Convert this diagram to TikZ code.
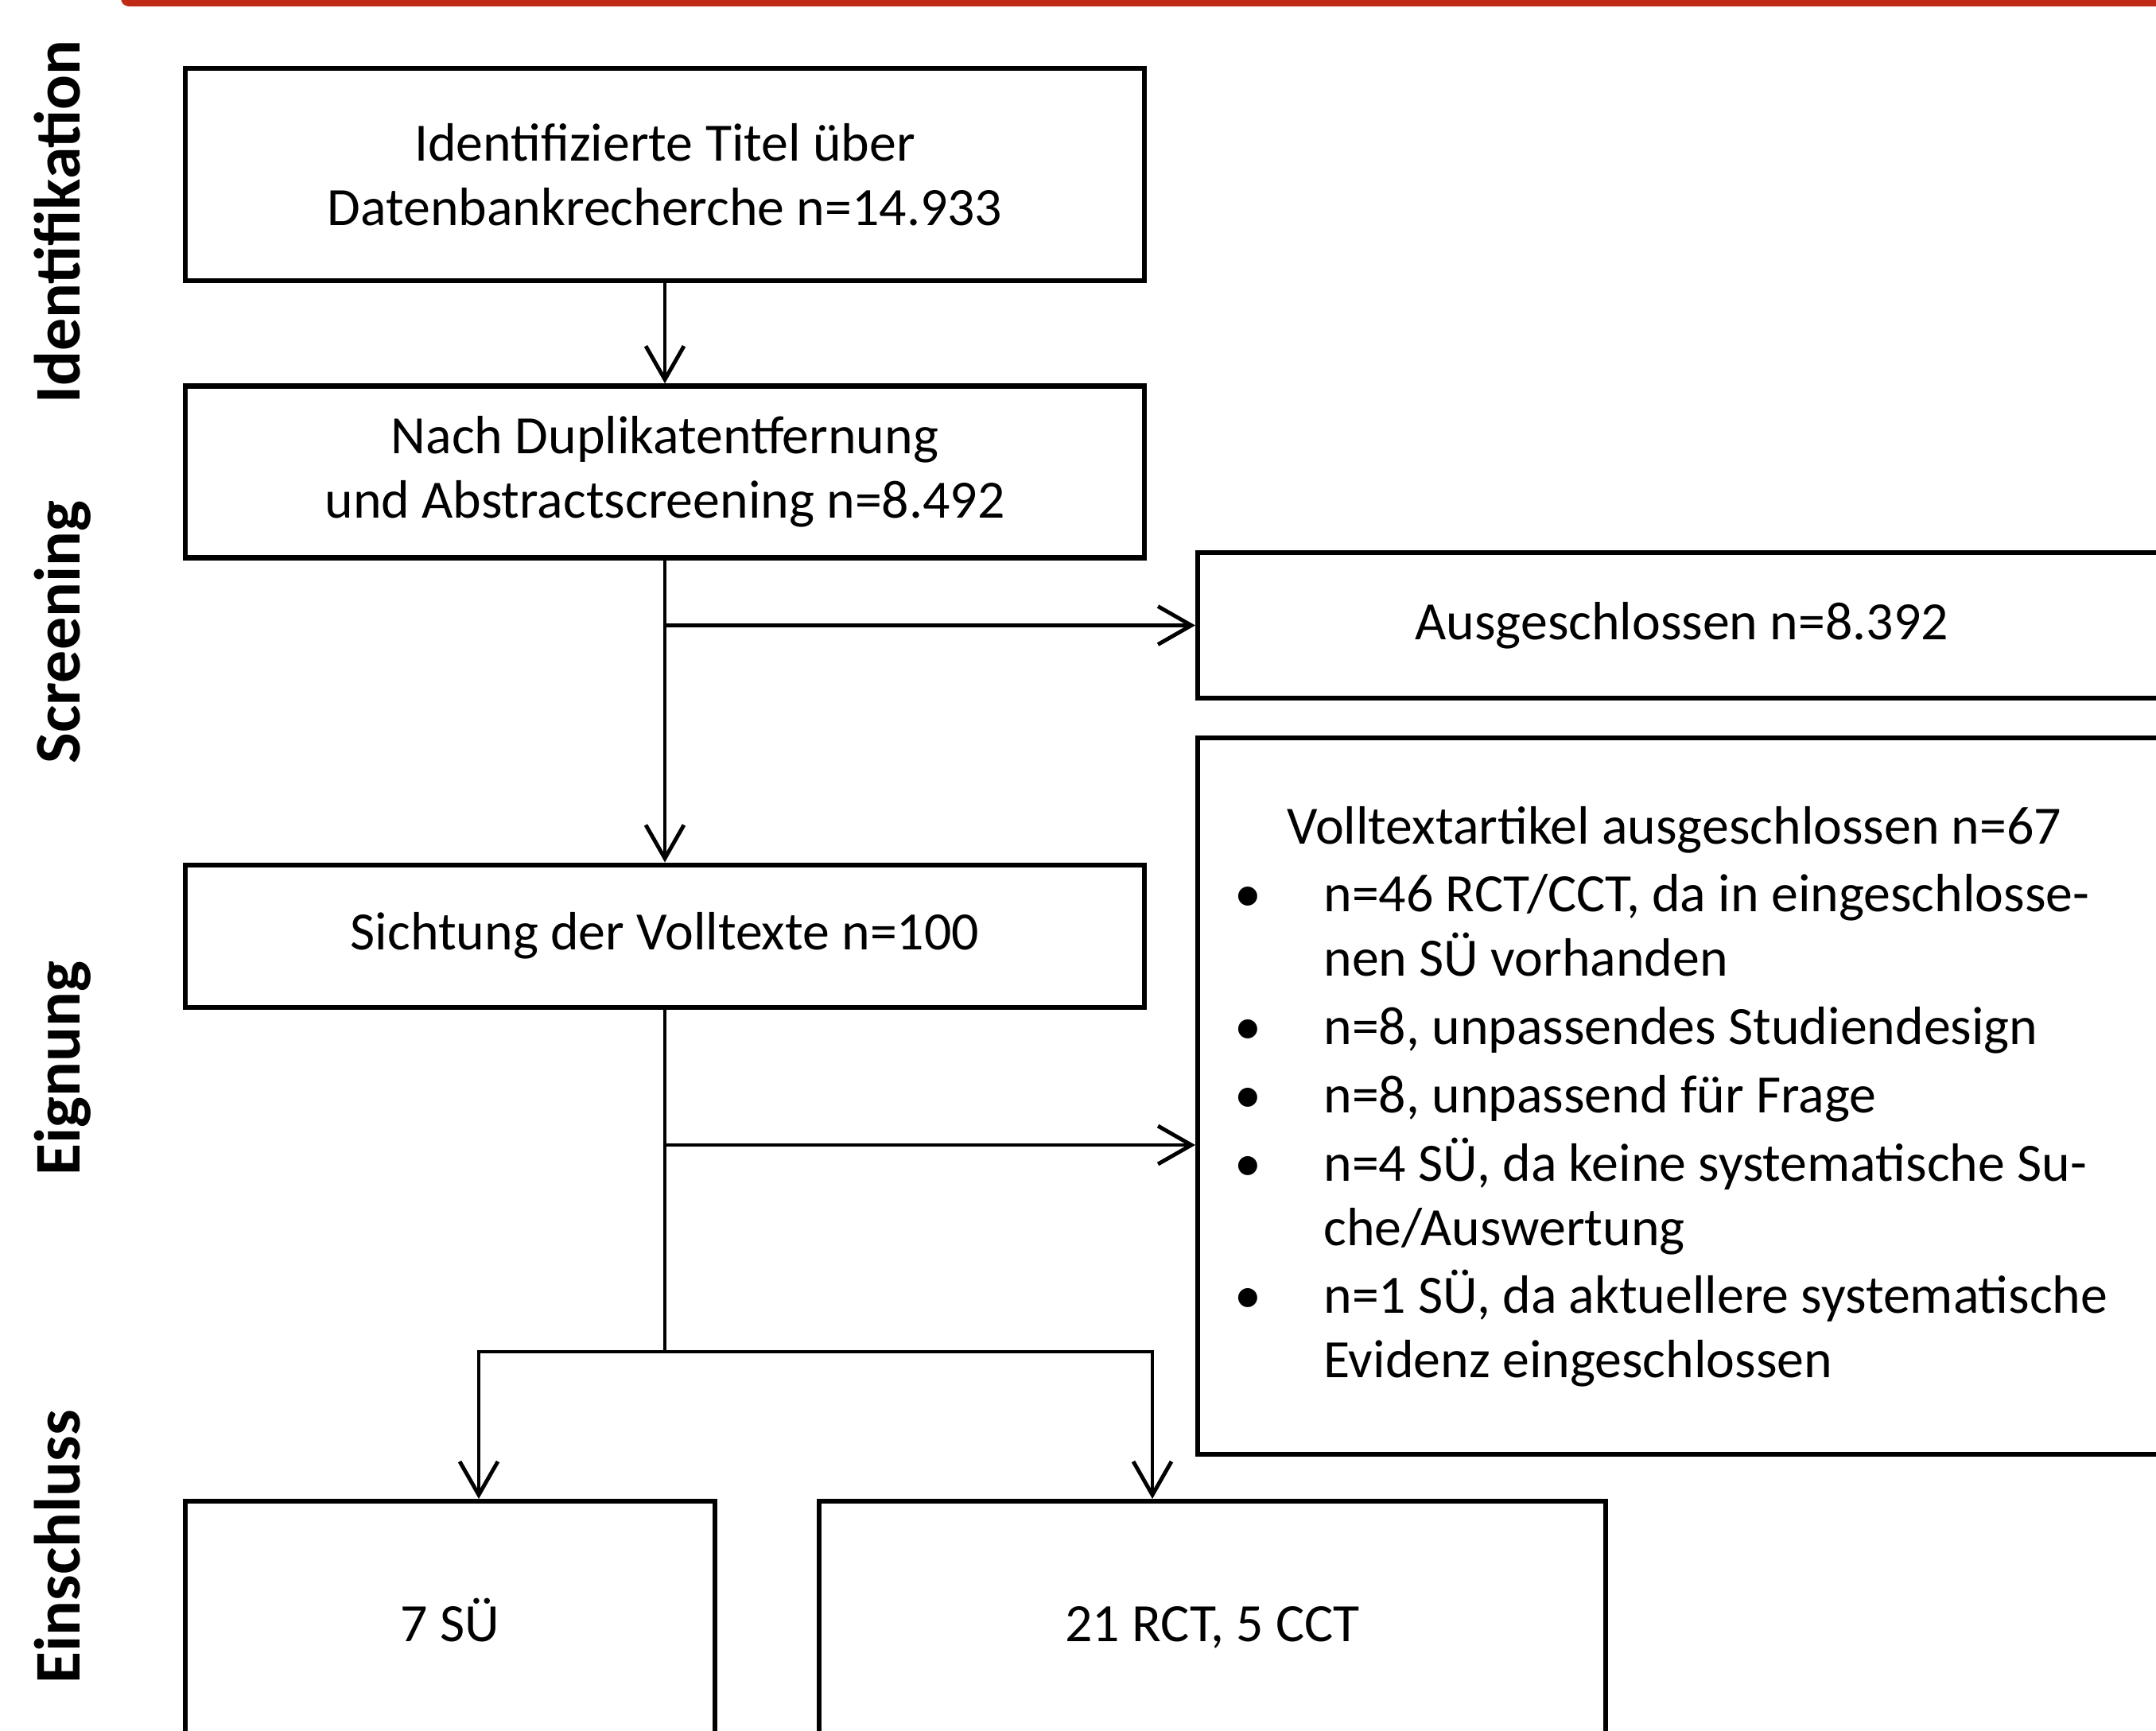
\documentclass[tikz,border=0pt]{standalone}
\usepackage{fontspec}
\setmainfont{Carlito}
\usetikzlibrary{arrows.meta,positioning}
\definecolor{topbar}{RGB}{190,42,22}

\begin{document}
\begin{tikzpicture}[thick, node distance=1.26cm,
	main box/.style={rectangle, draw, line width=1.8pt, align=center, minimum width=12.06cm, font=\fontsize{19.3}{23}\selectfont},
	side box/.style={rectangle, draw, line width=1.8pt, minimum width=12.17cm, font=\fontsize{19.3}{23}\selectfont},
	phase/.style={rotate=90, anchor=base, font=\bfseries\fontsize{23.3}{28}\selectfont},
	flow/.style={line width=1.4pt, -{Straight Barb[length=4.2mm,width=4.8mm,line width=1.4pt]}}]
	\useasboundingbox (0,0) rectangle (27.11,-21.76);
	\fill[topbar, rounded corners=1mm] (1.52,0.3) rectangle (28,-0.08);
	% phases
	\node[phase] (ident) at (1.00,-2.79) {Identifikation};
	\node[phase] (screen) at (1.00,-7.95) {Screening};
	\node[phase] (eign) at (1.00,-13.44) {Eignung};
	\node[phase] (einschl) at (1.00,-19.45) {Einschluss};
	% main column
	\node[main box, minimum height=2.67cm] (id) at (8.36,-2.195) {Identifizierte Titel über\\Datenbankrecherche n=14.933};
	\node[main box, minimum height=2.16cm] (dup) [below=of id] {Nach Duplikatentfernung\\und Abstractscreening n=8.492};
	\node[main box, minimum height=1.79cm] (sicht) [below=3.80cm of dup] {Sichtung der Volltexte n=100};
	\node[main box, minimum width=6.66cm, minimum height=3.2cm, anchor=north] (su) at (5.66,-18.85) {\strut 7 SÜ};
	\node[main box, minimum width=9.89cm, minimum height=3.2cm, anchor=north] (rct) at (15.245,-18.85) {\strut 21 RCT, 5 CCT};
	% excluded
	\node[side box, minimum height=1.83cm, anchor=west] (aus1) at (15.03,-7.865) {Ausgeschlossen n=8.392};
	\node[side box, minimum height=9.01cm, anchor=north west] (aus2) at (15.03,-9.25) {};
	\node[anchor=north west, inner sep=0pt, font=\fontsize{19.3}{23}\selectfont] (gruende) at ([xshift=4.8mm,yshift=-7.8mm]aus2.north west) {%
		\begin{tabular}{@{}p{1.12cm}@{}l@{}}
		\multicolumn{2}{@{\hspace{6.6mm}}l@{}}{Volltextartikel ausgeschlossen n=67}\\[0.05cm]
		\textbullet & n=46 RCT/CCT, da in eingeschlosse-\\
		& nen SÜ vorhanden\\[0.05cm]
		\textbullet & n=8, unpassendes Studiendesign\\[0.05cm]
		\textbullet & n=8, unpassend für Frage\\[0.05cm]
		\textbullet & n=4 SÜ, da keine systematische Su-\\
		& che/Auswertung\\[0.05cm]
		\textbullet & n=1 SÜ, da aktuellere systematische\\
		& Evidenz eingeschlossen
		\end{tabular}};
	% connectors
	\coordinate (j1) at (id.south |- aus1.west);
	\coordinate (j2) at (8.36,-14.40);
	\coordinate (split) at (8.36,-17.00);
	\coordinate (sl) at (6.02,-17.00);
	\coordinate (sr) at (14.49,-17.00);
	\draw[flow] (id) -- (dup);
	\draw[flow] (dup) -- (sicht);
	\draw[flow] (j1) -- (aus1);
	\draw[line width=1.4pt] (sicht) -- (split);
	\draw[flow] (j2) -- (j2 -| aus2.west);
	\draw[flow] (split) -| (sl |- su.north);
	\draw[flow] (split) -| (sr |- rct.north);
\end{tikzpicture}
\end{document}
